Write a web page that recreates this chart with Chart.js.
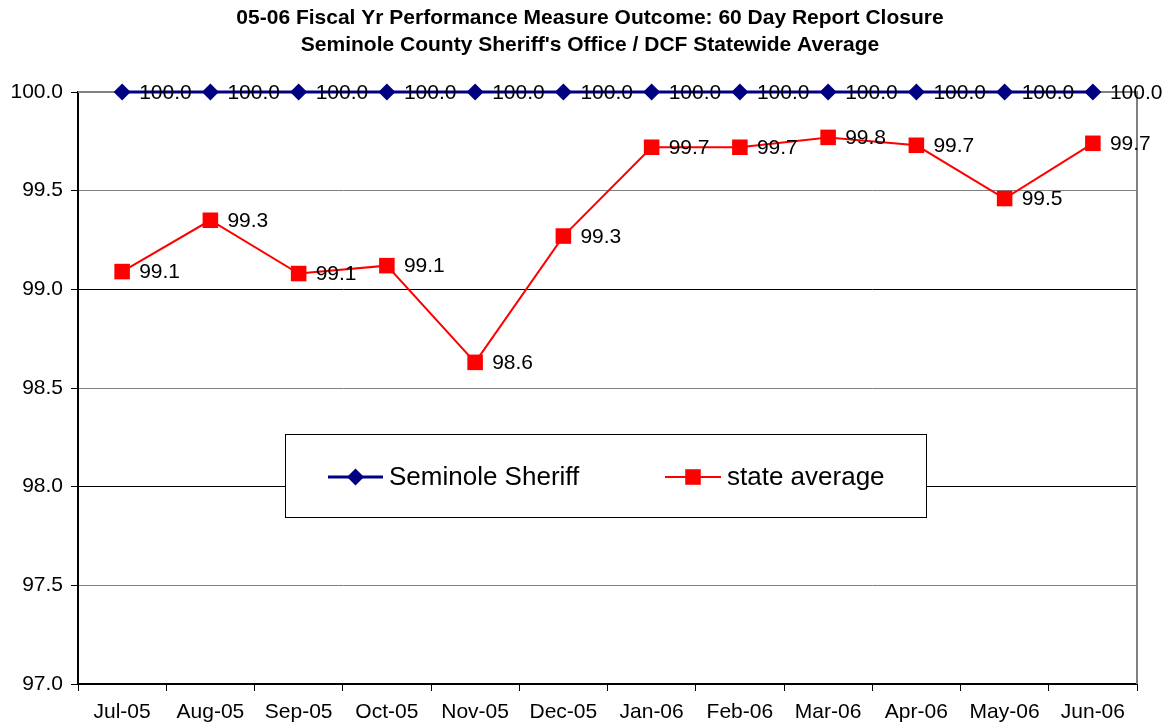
<!DOCTYPE html>
<html>
<head>
<meta charset="utf-8">
<script src="https://cdn.jsdelivr.net/npm/chart.js@4/dist/chart.umd.min.js"></script>
<style>
  html, body { margin: 0; padding: 0; background: #fff; }
  canvas { display: block; }
</style>
</head>
<body>
<canvas id="chart" width="1168" height="728"></canvas>
<script>
const months = ['Jul-05', 'Aug-05', 'Sep-05', 'Oct-05', 'Nov-05', 'Dec-05',
                'Jan-06', 'Feb-06', 'Mar-06', 'Apr-06', 'May-06', 'Jun-06'];
const sheriff = [100, 100, 100, 100, 100, 100, 100, 100, 100, 100, 100, 100];
const stateAvg = [99.09, 99.35, 99.08, 99.12, 98.63, 99.27, 99.72, 99.72, 99.77, 99.73, 99.46, 99.74];
const titleLines = ['05-06 Fiscal Yr Performance Measure Outcome: 60 Day Report Closure',
                    "Seminole County Sheriff's Office / DCF Statewide Average"];

const FONT = 'Arial, "Liberation Sans", sans-serif';

const titlePlugin = {
    id: 'titleText',
    afterDraw(chart) {
        const ctx = chart.ctx;
        ctx.save();
        ctx.fillStyle = '#000';
        ctx.font = 'bold 21px ' + FONT;
        ctx.textAlign = 'center';
        ctx.textBaseline = 'middle';
        ctx.fillText(titleLines[0], 590, 18);
        ctx.fillText(titleLines[1], 590, 45);
        ctx.restore();
    }
};

const borderPlugin = {
    id: 'plotBorder',
    beforeDatasetsDraw(chart) {
        const a = chart.chartArea;
        const ctx = chart.ctx;
        ctx.save();
        ctx.strokeStyle = '#808080';
        ctx.lineWidth = 2;
        ctx.beginPath();
        ctx.moveTo(a.left, a.top);
        ctx.lineTo(a.right, a.top);
        ctx.lineTo(a.right, a.bottom);
        ctx.stroke();
        ctx.restore();
    }
};

const labelPlugin = {
    id: 'pointLabels',
    afterDatasetsDraw(chart) {
        const ctx = chart.ctx;
        ctx.save();
        ctx.fillStyle = '#000';
        ctx.font = '21px ' + FONT;
        ctx.textAlign = 'left';
        ctx.textBaseline = 'middle';
        chart.data.datasets.forEach((ds, i) => {
            const meta = chart.getDatasetMeta(i);
            meta.data.forEach((pt, j) => {
                ctx.fillText(ds.data[j].toFixed(1), pt.x + 17, pt.y + 1);
            });
        });
        ctx.restore();
    }
};

const legendPlugin = {
    id: 'boxLegend',
    afterDatasetsDraw(chart) {
        const ctx = chart.ctx;
        ctx.save();
        ctx.fillStyle = '#fff';
        ctx.fillRect(285, 434, 641, 83);
        ctx.strokeStyle = '#000';
        ctx.lineWidth = 1;
        ctx.strokeRect(285.5, 434.5, 641, 83);
        const items = [
            { x1: 328, x2: 383, text: 'Seminole Sheriff', ds: chart.data.datasets[0] },
            { x1: 665, x2: 721, text: 'state average', ds: chart.data.datasets[1] }
        ];
        const y = 477;
        items.forEach(it => {
            ctx.strokeStyle = it.ds.borderColor;
            ctx.lineWidth = it.ds.borderWidth;
            ctx.beginPath();
            ctx.moveTo(it.x1, y);
            ctx.lineTo(it.x2, y);
            ctx.stroke();
            ctx.fillStyle = it.ds.pointBackgroundColor;
            Chart.helpers.drawPoint(ctx, {
                pointStyle: it.ds.pointStyle,
                radius: it.ds.pointRadius,
                borderWidth: 0,
                rotation: 0
            }, (it.x1 + it.x2) / 2, y);
            ctx.fillStyle = '#000';
            ctx.font = '26px ' + FONT;
            ctx.textAlign = 'left';
            ctx.textBaseline = 'middle';
            ctx.fillText(it.text, it.x2 + 6, y + 1);
        });
        ctx.restore();
    }
};

const ctx = document.getElementById('chart').getContext('2d');
const chart = new Chart(ctx, {
    type: 'line',
    data: {
        labels: months,
        datasets: [{
            label: 'Seminole Sheriff',
            data: sheriff,
            borderColor: '#000080',
            backgroundColor: '#000080',
            pointBackgroundColor: '#000080',
            pointBorderColor: '#000080',
            borderWidth: 3,
            pointStyle: 'rectRot',
            pointRadius: 8.5,
            pointBorderWidth: 0,
            tension: 0,
            clip: false
        }, {
            label: 'state average',
            data: stateAvg,
            borderColor: '#ff0000',
            backgroundColor: '#ff0000',
            pointBackgroundColor: '#ff0000',
            pointBorderColor: '#ff0000',
            borderWidth: 2,
            pointStyle: 'rect',
            pointRadius: 11,
            pointBorderWidth: 0,
            tension: 0,
            clip: false
        }]
    },
    options: {
        responsive: false,
        animation: false,
        devicePixelRatio: 1,
        layout: { padding: { top: 92, right: 31, left: 0, bottom: 0 } },
        plugins: {
            legend: { display: false },
            title: { display: false },
            tooltip: { enabled: false }
        },
        scales: {
            x: {
                offset: true,
                grid: {
                    offset: true,
                    drawOnChartArea: false,
                    tickLength: 7,
                    tickColor: '#000'
                },
                border: { color: '#000', width: 2 },
                ticks: {
                    color: '#000',
                    font: { family: FONT, size: 21 },
                    padding: 9,
                    maxRotation: 0,
                    autoSkip: false
                },
                afterFit(scale) { scale.height = 44; }
            },
            y: {
                min: 97,
                max: 100,
                grid: {
                    color: c => (c.index % 2 === 0 && c.index !== 6) ? '#000' : '#808080',
                    lineWidth: 1,
                    tickLength: 7,
                    tickColor: '#000'
                },
                border: { color: '#000', width: 2 },
                ticks: {
                    stepSize: 0.5,
                    color: '#000',
                    font: { family: FONT, size: 21 },
                    padding: 8,
                    callback: v => v.toFixed(1)
                },
                afterFit(scale) { scale.width = 78; }
            }
        }
    },
    plugins: [borderPlugin, labelPlugin, legendPlugin, titlePlugin]
});
</script>
</body>
</html>
